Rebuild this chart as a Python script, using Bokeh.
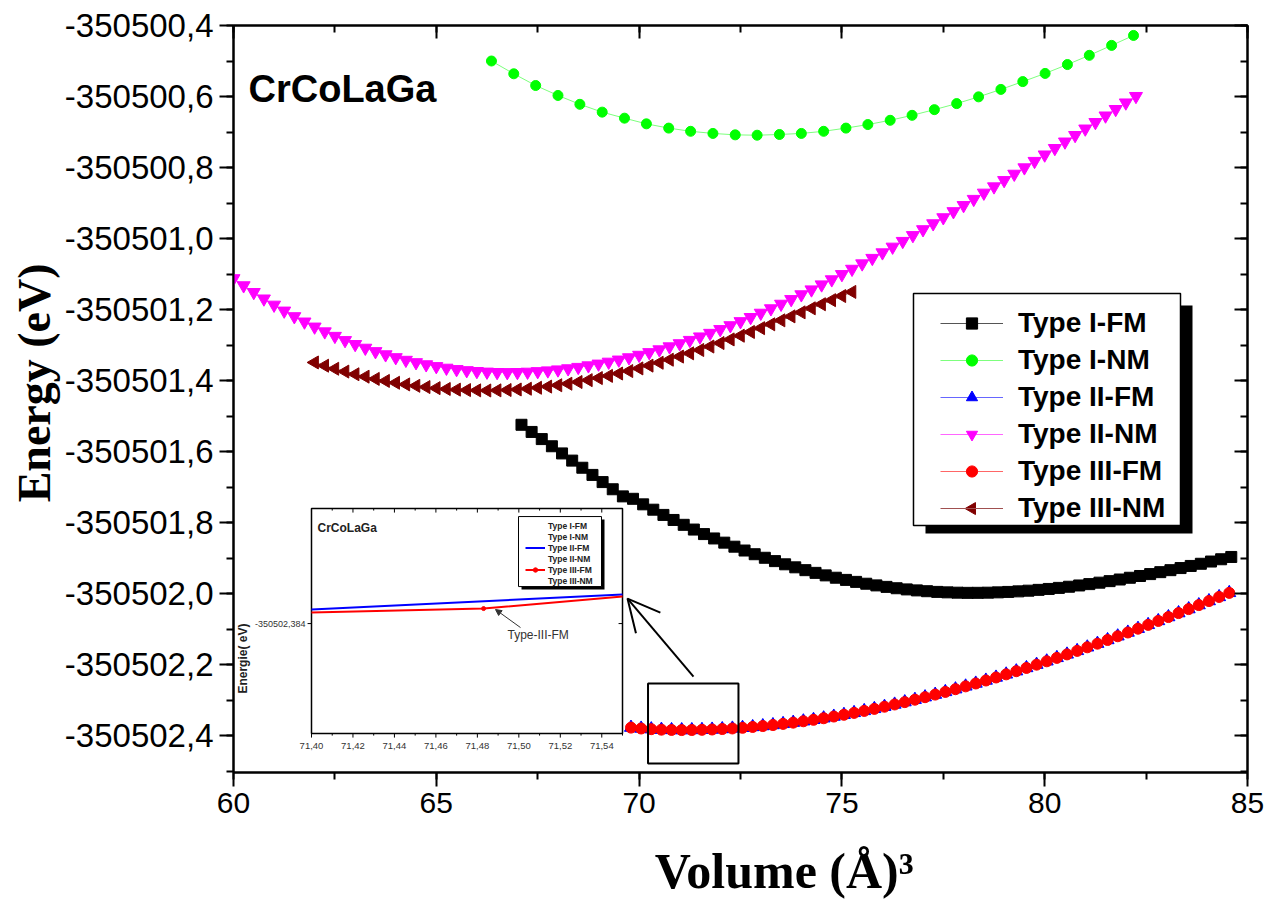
import math

from bokeh.core.properties import value
from bokeh.embed import file_html
from bokeh.models import (Arrow, BoxAnnotation, CDSView, ColumnDataSource,
                          CustomJSTickFormatter, IndexFilter, Label, Legend,
                          LegendItem, LinearAxis, NormalHead, OpenHead, Range1d,
                          SingleIntervalTicker, Title)
from bokeh.plotting import figure
from bokeh.resources import INLINE

SANS = "Liberation Sans"
SERIF = "Liberation Serif"

# ---------------------------------------------------------------- data (V in A^3, E in eV)
vol_i_fm = [
    67.10, 67.35, 67.60, 67.85, 68.10, 68.35, 68.60, 68.85, 69.10, 69.35,
    69.60, 69.85, 70.10, 70.35, 70.60, 70.85, 71.10, 71.35, 71.60, 71.85,
    72.10, 72.35, 72.60, 72.85, 73.10, 73.35, 73.60, 73.85, 74.10, 74.35,
    74.60, 74.85, 75.10, 75.35, 75.60, 75.85, 76.10, 76.35, 76.60, 76.85,
    77.10, 77.35, 77.60, 77.85, 78.10, 78.35, 78.60, 78.85, 79.10, 79.35,
    79.60, 79.85, 80.10, 80.35, 80.60, 80.85, 81.10, 81.35, 81.60, 81.85,
    82.10, 82.35, 82.60, 82.85, 83.10, 83.35, 83.60, 83.85, 84.10, 84.35,
    84.60,
]
en_i_fm = [
    -350501.5246, -350501.5448, -350501.5649, -350501.5851, -350501.6053,
    -350501.6255, -350501.6456, -350501.6658, -350501.6860, -350501.7062,
    -350501.7263, -350501.7331, -350501.7487, -350501.7638, -350501.7785,
    -350501.7927, -350501.8064, -350501.8197, -350501.8325, -350501.8448,
    -350501.8566, -350501.8680, -350501.8788, -350501.8892, -350501.8992,
    -350501.9086, -350501.9176, -350501.9261, -350501.9341, -350501.9417,
    -350501.9488, -350501.9554, -350501.9615, -350501.9671, -350501.9723,
    -350501.9770, -350501.9812, -350501.9850, -350501.9883, -350501.9911,
    -350501.9934, -350501.9953, -350501.9966, -350501.9975, -350501.9980,
    -350501.9979, -350501.9975, -350501.9966, -350501.9954, -350501.9938,
    -350501.9919, -350501.9896, -350501.9870, -350501.9840, -350501.9808,
    -350501.9772, -350501.9734, -350501.9693, -350501.9650, -350501.9604,
    -350501.9555, -350501.9505, -350501.9452, -350501.9397, -350501.9341,
    -350501.9282, -350501.9222, -350501.9161, -350501.9098, -350501.9034,
    -350501.8969,
]

vol_i_nm = [
    66.36, 66.91, 67.45, 68.00, 68.54, 69.09, 69.64, 70.18, 70.73, 71.27,
    71.82, 72.37, 72.91, 73.46, 74.00, 74.55, 75.10, 75.64, 76.19, 76.73,
    77.28, 77.83, 78.37, 78.92, 79.46, 80.01, 80.56, 81.10, 81.65, 82.19,
]
en_i_nm = [
    -350500.500, -350500.536, -350500.569, -350500.597, -350500.622,
    -350500.644, -350500.661, -350500.677, -350500.689, -350500.698,
    -350500.704, -350500.708, -350500.709, -350500.707, -350500.704,
    -350500.698, -350500.689, -350500.679, -350500.667, -350500.653,
    -350500.637, -350500.620, -350500.601, -350500.580, -350500.558,
    -350500.535, -350500.510, -350500.484, -350500.456, -350500.428,
]

vol_ii_nm = [
    60.00, 60.25, 60.50, 60.75, 61.00, 61.25, 61.50, 61.75, 62.00, 62.25,
    62.50, 62.75, 63.00, 63.25, 63.50, 63.75, 64.00, 64.25, 64.50, 64.75,
    65.00, 65.25, 65.50, 65.75, 66.00, 66.25, 66.50, 66.75, 67.00, 67.25,
    67.50, 67.75, 68.00, 68.25, 68.50, 68.75, 69.00, 69.25, 69.50, 69.75,
    70.00, 70.25, 70.50, 70.75, 71.00, 71.25, 71.50, 71.75, 72.00, 72.25,
    72.50, 72.75, 73.00, 73.25, 73.50, 73.75, 74.00, 74.25, 74.50, 74.75,
    75.00, 75.25, 75.50, 75.75, 76.00, 76.25, 76.50, 76.75, 77.00, 77.25,
    77.50, 77.75, 78.00, 78.25, 78.50, 78.75, 79.00, 79.25, 79.50, 79.75,
    80.00, 80.25, 80.50, 80.75, 81.00, 81.25, 81.50, 81.75, 82.00, 82.25,
]
en_ii_nm = [
    -350501.1125, -350501.1324, -350501.1514, -350501.1696, -350501.1870,
    -350501.2037, -350501.2195, -350501.2345, -350501.2487, -350501.2622,
    -350501.2749, -350501.2868, -350501.2979, -350501.3083, -350501.3179,
    -350501.3268, -350501.3349, -350501.3423, -350501.3490, -350501.3549,
    -350501.3601, -350501.3646, -350501.3684, -350501.3715, -350501.3739,
    -350501.3756, -350501.3767, -350501.3770, -350501.3767, -350501.3758,
    -350501.3742, -350501.3721, -350501.3694, -350501.3662, -350501.3623,
    -350501.3579, -350501.3530, -350501.3476, -350501.3416, -350501.3352,
    -350501.3282, -350501.3207, -350501.3128, -350501.3044, -350501.2956,
    -350501.2863, -350501.2765, -350501.2664, -350501.2558, -350501.2449,
    -350501.2335, -350501.2218, -350501.2097, -350501.1972, -350501.1844,
    -350501.1713, -350501.1578, -350501.1440, -350501.1299, -350501.1156,
    -350501.1009, -350501.0859, -350501.0707, -350501.0553, -350501.0396,
    -350501.0236, -350501.0075, -350500.9911, -350500.9745, -350500.9578,
    -350500.9408, -350500.9237, -350500.9065, -350500.8891, -350500.8715,
    -350500.8538, -350500.8361, -350500.8182, -350500.8002, -350500.7821,
    -350500.7640, -350500.7458, -350500.7275, -350500.7092, -350500.6909,
    -350500.6726, -350500.6542, -350500.6359, -350500.6175, -350500.5992,
]

vol_iii_nm = [
    62.00, 62.25, 62.50, 62.75, 63.00, 63.25, 63.50, 63.75, 64.00, 64.25,
    64.50, 64.75, 65.00, 65.25, 65.50, 65.75, 66.00, 66.25, 66.50, 66.75,
    67.00, 67.25, 67.50, 67.75, 68.00, 68.25, 68.50, 68.75, 69.00, 69.25,
    69.50, 69.75, 70.00, 70.25, 70.50, 70.75, 71.00, 71.25, 71.50, 71.75,
    72.00, 72.25, 72.50, 72.75, 73.00, 73.25, 73.50, 73.75, 74.00, 74.25,
    74.50, 74.75, 75.00, 75.25,
]
en_iii_nm = [
    -350501.3491, -350501.3582, -350501.3668, -350501.3748, -350501.3823,
    -350501.3891, -350501.3954, -350501.4011, -350501.4063, -350501.4109,
    -350501.4149, -350501.4184, -350501.4214, -350501.4238, -350501.4256,
    -350501.4269, -350501.4277, -350501.4280, -350501.4277, -350501.4267,
    -350501.4252, -350501.4231, -350501.4204, -350501.4171, -350501.4133,
    -350501.4090, -350501.4042, -350501.3989, -350501.3931, -350501.3869,
    -350501.3803, -350501.3733, -350501.3659, -350501.3580, -350501.3499,
    -350501.3414, -350501.3326, -350501.3234, -350501.3140, -350501.3043,
    -350501.2944, -350501.2842, -350501.2738, -350501.2632, -350501.2525,
    -350501.2416, -350501.2305, -350501.2193, -350501.2080, -350501.1966,
    -350501.1851, -350501.1736, -350501.1620, -350501.1504,
]

vol_fm_ii_iii = [
    69.80, 70.05, 70.30, 70.55, 70.80, 71.05, 71.30, 71.55, 71.80, 72.05,
    72.30, 72.55, 72.80, 73.05, 73.30, 73.55, 73.80, 74.05, 74.30, 74.55,
    74.80, 75.05, 75.30, 75.55, 75.80, 76.05, 76.30, 76.55, 76.80, 77.05,
    77.30, 77.55, 77.80, 78.05, 78.30, 78.55, 78.80, 79.05, 79.30, 79.55,
    79.80, 80.05, 80.30, 80.55, 80.80, 81.05, 81.30, 81.55, 81.80, 82.05,
    82.30, 82.55, 82.80, 83.05, 83.30, 83.55, 83.80, 84.05, 84.30, 84.55,
]
en_ii_fm = [
    -350502.3774, -350502.3799, -350502.3818, -350502.3832, -350502.3840,
    -350502.3843, -350502.3841, -350502.3836, -350502.3827, -350502.3814,
    -350502.3798, -350502.3779, -350502.3756, -350502.3730, -350502.3701,
    -350502.3669, -350502.3634, -350502.3595, -350502.3554, -350502.3510,
    -350502.3462, -350502.3412, -350502.3359, -350502.3304, -350502.3246,
    -350502.3185, -350502.3122, -350502.3056, -350502.2988, -350502.2917,
    -350502.2844, -350502.2769, -350502.2692, -350502.2612, -350502.2531,
    -350502.2447, -350502.2362, -350502.2274, -350502.2185, -350502.2094,
    -350502.2001, -350502.1906, -350502.1810, -350502.1712, -350502.1613,
    -350502.1512, -350502.1410, -350502.1306, -350502.1201, -350502.1095,
    -350502.0988, -350502.0880, -350502.0770, -350502.0660, -350502.0548,
    -350502.0436, -350502.0323, -350502.0209, -350502.0094, -350501.9979,
]
en_iii_fm = [
    -350502.3776, -350502.3801, -350502.3820, -350502.3834, -350502.3842,
    -350502.3845, -350502.3843, -350502.3838, -350502.3829, -350502.3816,
    -350502.3800, -350502.3781, -350502.3758, -350502.3732, -350502.3703,
    -350502.3671, -350502.3636, -350502.3597, -350502.3556, -350502.3512,
    -350502.3464, -350502.3414, -350502.3361, -350502.3306, -350502.3248,
    -350502.3187, -350502.3124, -350502.3058, -350502.2990, -350502.2919,
    -350502.2846, -350502.2771, -350502.2694, -350502.2614, -350502.2533,
    -350502.2449, -350502.2364, -350502.2276, -350502.2187, -350502.2096,
    -350502.2003, -350502.1908, -350502.1812, -350502.1714, -350502.1615,
    -350502.1514, -350502.1412, -350502.1308, -350502.1203, -350502.1097,
    -350502.0990, -350502.0882, -350502.0772, -350502.0662, -350502.0550,
    -350502.0438, -350502.0325, -350502.0211, -350502.0096, -350501.9981,
]

# zoomed view (inset) around the FM minimum
inset_vol_ii_fm = [71.40, 71.55]
inset_en_ii_fm = [-350502.38372, -350502.38342]
inset_vol_iii_fm = [71.40, 71.483, 71.55]
inset_en_iii_fm = [-350502.38378, -350502.38370, -350502.38346]
inset_major_ticks = [71.40, 71.42, 71.44, 71.46, 71.48, 71.50, 71.52, 71.54]
inset_minor_ticks = [71.41, 71.43, 71.45, 71.47, 71.49, 71.51, 71.53, 71.55]
inset_tick_labels = ["71,40", "71,42", "71,44", "71,46", "71,48", "71,50", "71,52", "71,54"]
inset_y_tick = -350502.384
inset_y_tick_label = "-350502,384"

# ---------------------------------------------------------------- main figure
p = figure(
    width=1277, height=910, output_backend="svg", toolbar_location=None,
    x_range=Range1d(60, 85), y_range=Range1d(-350502.504, -350500.4),
    x_axis_type=None, y_axis_type=None,
    min_border_left=233, min_border_right=30, min_border_top=25, min_border_bottom=138,
    background_fill_color="white", border_fill_color="white",
)
p.outline_line_color = "black"
p.outline_line_width = 2

y_fmt = CustomJSTickFormatter(code="return tick.toFixed(1).replace('.', ',');")
blank_fmt = CustomJSTickFormatter(code="return '';")


def style_axis(ax, outward, label_size="30px"):
    ax.axis_line_width = 2
    ax.major_tick_line_width = 2
    ax.minor_tick_line_width = 2
    if outward:
        ax.major_tick_out, ax.major_tick_in = 14, 0
        ax.minor_tick_out, ax.minor_tick_in = 7, 0
        ax.major_label_text_font = SANS
        ax.major_label_text_font_size = label_size
        ax.major_label_text_color = "black"
        ax.major_label_standoff = 6
    else:
        ax.major_tick_out, ax.major_tick_in = 0, 13
        ax.minor_tick_out, ax.minor_tick_in = 0, 7
        ax.major_label_text_font_size = "1px"
        ax.major_label_standoff = 0


x_bottom = LinearAxis(ticker=SingleIntervalTicker(interval=5, num_minor_ticks=2))
x_top = LinearAxis(ticker=SingleIntervalTicker(interval=5, num_minor_ticks=2), formatter=blank_fmt)
y_left = LinearAxis(ticker=SingleIntervalTicker(interval=0.2, num_minor_ticks=2), formatter=y_fmt)
y_right = LinearAxis(ticker=SingleIntervalTicker(interval=0.2, num_minor_ticks=2), formatter=blank_fmt)
style_axis(x_bottom, True, "30px")
style_axis(y_left, True, "33px")
style_axis(x_top, False)
style_axis(y_right, False)

# x title sits a little right of the frame centre (leading no-break spaces)
x_bottom.axis_label = "\u00a0" * 7 + "Volume (Å)³"
x_bottom.axis_label_text_font = SERIF
x_bottom.axis_label_text_font_style = "bold"
x_bottom.axis_label_text_font_size = "50px"
x_bottom.axis_label_text_color = "black"
x_bottom.axis_label_standoff = 27

p.add_layout(x_bottom, "below")
p.add_layout(y_left, "left")
p.add_layout(x_top, "above")
p.add_layout(y_right, "right")

p.add_layout(Title(text="Energy (eV)", align="right", offset=238, standoff=4,
                   text_font=SERIF, text_font_style="bold", text_font_size="46px",
                   text_color="black"), "left")

# ---------------------------------------------------------------- curves
series = [
    ("Type I-FM", vol_i_fm, en_i_fm, "square", 11, 0, "#000000", "#555555"),
    ("Type I-NM", vol_i_nm, en_i_nm, "circle", 10, 0, "#00ff00", "#7dff7d"),
    ("Type II-FM", vol_fm_ii_iii, en_ii_fm, "triangle", 13, 0, "#0000ff", "#6666ff"),
    ("Type II-NM", vol_ii_nm, en_ii_nm, "inverted_triangle", 13, 0, "#ff00ff", "#ff66ff"),
    ("Type III-FM", vol_fm_ii_iii, en_iii_fm, "circle", 11, 0, "#ff0000", "#ff6666"),
    ("Type III-NM", vol_iii_nm, en_iii_nm, "triangle", 13, math.pi / 2, "#800000", "#a05050"),
]

legend_items = []
for name, vols, ens, marker, size, ang, color, lcolor in series:
    src = ColumnDataSource(dict(v=vols, e=ens))
    lr = p.line("v", "e", source=src, line_color=lcolor, line_width=1)
    sr = p.scatter("v", "e", source=src, marker=marker, size=size, angle=ang,
                   fill_color=color, line_color=color)
    # the legend cannot rotate markers, so the left-pointing key is drawn separately
    legend_items.append(LegendItem(label=name, renderers=[lr] if ang else [lr, sr]))

# legend frame with drop shadow
p.add_layout(BoxAnnotation(left=77.061, right=83.644, top=-350501.1887, bottom=-350501.831,
                           fill_color="black", fill_alpha=1, line_alpha=0))
p.add_layout(BoxAnnotation(left=76.765, right=83.348, top=-350501.155, bottom=-350501.8085,
                           fill_color="white", fill_alpha=1, line_color="black",
                           line_alpha=1, line_width=1.5))
main_legend = Legend(
    items=legend_items, location=(707, 246),
    label_text_font=SANS, label_text_font_style="bold", label_text_font_size="28px",
    label_text_color="black",
    label_height=36, glyph_height=28, glyph_width=63, label_standoff=15,
    spacing=1, padding=0, margin=0,
    border_line_alpha=0, background_fill_alpha=0,
)
p.add_layout(main_legend)
p.scatter(x=[78.208], y=[-350501.7606], marker="triangle", angle=math.pi / 2, size=12,
          fill_color="#800000", line_color="#800000", level="overlay")

# ---------------------------------------------------------------- texts
p.add_layout(Label(x=60.37, y=-350500.5775, text="CrCoLaGa", text_font=SANS,
                   text_font_style="bold", text_font_size="38px", text_color="black",
                   text_baseline="alphabetic"))

# zoom box and pointer towards the inset
p.add_layout(BoxAnnotation(left=70.22, right=72.45, top=-350502.2535, bottom=-350502.479,
                           fill_alpha=0, line_color="black", line_alpha=1, line_width=2))
p.add_layout(Arrow(end=OpenHead(size=32, line_width=2, line_color="black"),
                   x_start=71.341, y_start=-350502.2338, x_end=69.714, y_end=-350502.0141,
                   line_width=2, line_color="black"))

# ---------------------------------------------------------------- inset
IX0, IX1 = 71.40, 71.55
IY0, IY1 = -350502.3862, -350502.3817
inset = p.subplot(
    x_source=Range1d(IX0, IX1), y_source=Range1d(IY0, IY1),
    x_target=Range1d(61.923, 69.591), y_target=Range1d(-350502.3944, -350501.7606),
)
inset.quad(left=[IX0], right=[IX1], bottom=[IY0], top=[IY1],
           fill_color="white", line_color="black", line_width=1.5)

TX_MAJ, TX_MIN, TY_LEN = 0.00008, 0.00004, 0.0019
nmaj, nmin = len(inset_major_ticks), len(inset_minor_ticks)
inset.segment(x0=inset_major_ticks, y0=[IY0] * nmaj, x1=inset_major_ticks,
              y1=[IY0 - TX_MAJ] * nmaj, line_color="black", line_width=1)
inset.segment(x0=inset_minor_ticks, y0=[IY0] * nmin, x1=inset_minor_ticks,
              y1=[IY0 - TX_MIN] * nmin, line_color="black", line_width=1)
inset.segment(x0=inset_major_ticks, y0=[IY1] * nmaj, x1=inset_major_ticks,
              y1=[IY1 - TX_MAJ] * nmaj, line_color="black", line_width=1)
inset.segment(x0=inset_minor_ticks, y0=[IY1] * nmin, x1=inset_minor_ticks,
              y1=[IY1 - TX_MIN] * nmin, line_color="black", line_width=1)
inset.segment(x0=[IX0], y0=[inset_y_tick], x1=[IX0 - TY_LEN], y1=[inset_y_tick],
              line_color="black", line_width=1)
inset.segment(x0=[IX1], y0=[inset_y_tick], x1=[IX1 - TY_LEN], y1=[inset_y_tick],
              line_color="black", line_width=1)
inset.text(x=inset_major_ticks, y=[IY0 - 0.00018] * nmaj, text=inset_tick_labels,
           text_font=value(SANS), text_font_size="9.5px", text_color="#333333",
           text_align="center", text_baseline="top")
inset.text(x=[IX0 - 0.0029], y=[inset_y_tick], text=[inset_y_tick_label],
           text_font=value(SANS), text_font_size="9px", text_color="#333333",
           text_align="right", text_baseline="middle")
inset.text(x=[71.3672], y=[-350502.3847], text=["Energie( eV)"], angle=math.pi / 2,
           text_font=value(SANS), text_font_style="bold", text_font_size="12px",
           text_color="#222222", text_align="center", text_baseline="middle")
inset.text(x=[71.4029], y=[-350502.38208], text=["CrCoLaGa"],
           text_font=value(SANS), text_font_style="bold", text_font_size="12px",
           text_color="#222222", text_baseline="alphabetic")

blue_src = ColumnDataSource(dict(v=inset_vol_ii_fm, e=inset_en_ii_fm))
red_src = ColumnDataSource(dict(v=inset_vol_iii_fm, e=inset_en_iii_fm))
in_blue = inset.line("v", "e", source=blue_src, line_color="#0000ff", line_width=2)
in_red = inset.line("v", "e", source=red_src, line_color="#ff0000", line_width=2)
in_red_dot = inset.scatter("v", "e", source=red_src, view=CDSView(filter=IndexFilter([1])),
                           marker="circle", size=4, fill_color="#ff0000", line_color="#ff0000")

empty = dict(v=[], e=[])
k_line = inset.line("v", "e", source=ColumnDataSource(empty), line_color="#777777", line_width=1)
k_dot = inset.scatter("v", "e", source=ColumnDataSource(empty), marker="square",
                      fill_color="black", line_color="black")
g_dot = inset.scatter("v", "e", source=ColumnDataSource(empty), marker="circle",
                      fill_color="#00ff00", line_color="#00ff00")
m_dot = inset.scatter("v", "e", source=ColumnDataSource(empty), marker="circle",
                      fill_color="#ff00ff", line_color="#ff00ff")
b_line = inset.line("v", "e", source=ColumnDataSource(empty), line_color="#a05050", line_width=1)
b_dot = inset.scatter("v", "e", source=ColumnDataSource(empty), marker="circle",
                      fill_color="#800000", line_color="#800000")

p.add_layout(BoxAnnotation(left=67.101, right=69.147, top=-350501.7915, bottom=-350501.9887,
                           fill_color="black", fill_alpha=1, line_alpha=0))
p.add_layout(BoxAnnotation(left=67.027, right=69.073, top=-350501.7831, bottom=-350501.9803,
                           fill_color="white", fill_alpha=1, line_color="black",
                           line_alpha=1, line_width=1))
inset_legend = Legend(
    items=[
        LegendItem(label="Type I-FM", renderers=[k_line, k_dot]),
        LegendItem(label="Type I-NM", renderers=[g_dot]),
        LegendItem(label="Type II-FM", renderers=[in_blue]),
        LegendItem(label="Type II-NM", renderers=[m_dot]),
        LegendItem(label="Type III-FM", renderers=[in_red, in_red_dot]),
        LegendItem(label="Type III-NM", renderers=[b_line, b_dot]),
    ],
    location=(292, 186),
    label_text_font=SANS, label_text_font_style="bold", label_text_font_size="8.5px",
    label_text_color="#222222",
    label_height=11, glyph_height=11, glyph_width=20, label_standoff=3,
    spacing=0, padding=0, margin=0, border_line_alpha=0, background_fill_alpha=0,
)
p.add_layout(inset_legend)

# call-out on the inset
p.add_layout(Arrow(end=NormalHead(size=6, fill_color="#333333", line_color="#333333"),
                   x_start=67.076, y_start=-350502.0958, x_end=66.46, y_end=-350502.045,
                   line_width=1, line_color="#333333"))
p.add_layout(Label(x=66.755, y=-350502.1155, text="Type-III-FM", text_font=SANS,
                   text_font_size="12px", text_color="#333333", text_baseline="alphabetic"))

open("out.html", "w").write(file_html(p, INLINE))
